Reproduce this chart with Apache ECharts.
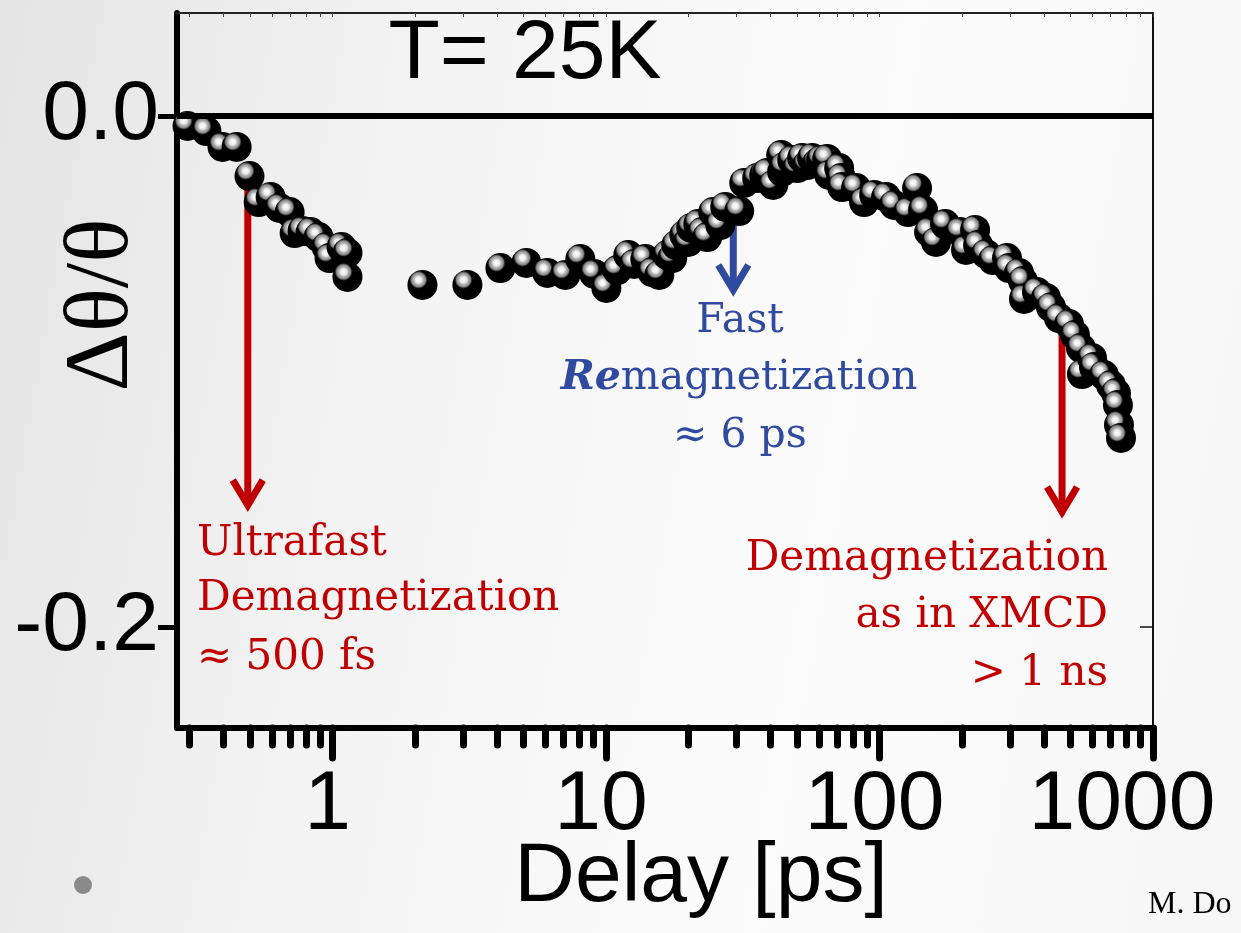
<!DOCTYPE html>
<html>
<head>
<meta charset="utf-8">
<title>T= 25K</title>
<script src="https://cdn.jsdelivr.net/npm/echarts@6/dist/echarts.min.js"></script>
<style>
  html, body { margin: 0; padding: 0; }
  body { background: linear-gradient(100deg, #e4e4e4 0%, #f3f3f3 30%, #fcfcfc 65%, #f6f6f6 100%); }
  #chart { width: 1241px; height: 933px; }
</style>
</head>
<body>
<div id="chart"></div>
<script>
// delay in ps (log axis) and the Kerr signal
const delayPs = [
  0.295, 0.346, 0.396, 0.446, 0.497, 0.537, 0.594, 0.640, 0.697, 0.727,
  0.777, 0.831, 0.889, 0.951, 0.975, 1.079, 1.134, 1.134, 2.132, 3.113,
  4.110, 5.114, 6.104, 7.10, 8.055, 9.06, 10.03, 11.0, 12.06, 12.69,
  13.92, 14.77, 15.66, 16.75, 17.47, 18.07, 19.33, 19.98, 20.50, 21.74,
  22.48, 23.45, 24.66, 26.16, 27.29, 30.69, 32.01, 35.71, 37.87, 38.84,
  40.86, 43.71, 44.07, 44.82, 47.94, 50.0, 52.14, 54.39, 56.72, 59.16,
  61.18, 64.35, 65.45, 71.2, 72.4, 73.0, 82.1, 87.8, 95.6, 105.7,
  113.1, 127.2, 137.2, 144.3, 151.8, 160.9, 173.7, 197.0, 207.2, 223.6,
  229.3, 245.2, 260.1, 292.6, 297.6, 323.6, 334.7, 337.5, 376.6, 406.2,
  423.6, 453.2, 492.8, 518.3, 545.2, 549.8, 598.2, 608.4, 661.6, 702,
  732, 744.5, 751, 763.7
];
const dTheta = [
  -0.0039, -0.0059, -0.0121, -0.0121, -0.0235, -0.0337, -0.0317, -0.0360, -0.0376, -0.0458,
  -0.0450, -0.0454, -0.0474, -0.0513, -0.0556, -0.0513, -0.0536, -0.0630, -0.0661, -0.0661,
  -0.0595, -0.0575, -0.0614, -0.0622, -0.0560, -0.0618, -0.0673, -0.0603, -0.0544, -0.0579,
  -0.0560, -0.0611, -0.0622, -0.0544, -0.0556, -0.0505, -0.0466, -0.0493, -0.0438, -0.0423,
  -0.0454, -0.0474, -0.0376, -0.0427, -0.0356, -0.0372, -0.0262, -0.0243, -0.0231, -0.0223,
  -0.0270, -0.0153, -0.0219, -0.0200, -0.0172, -0.0204, -0.0164, -0.0192, -0.0164, -0.0184,
  -0.0172, -0.0168, -0.0231, -0.0204, -0.0243, -0.0278, -0.0282, -0.0337, -0.0309, -0.0317,
  -0.0348, -0.0376, -0.0282, -0.0368, -0.0454, -0.0493, -0.0423, -0.0454, -0.0524, -0.0446,
  -0.0505, -0.0540, -0.0564, -0.0556, -0.0595, -0.0614, -0.0646, -0.0716, -0.0689, -0.0712,
  -0.0748, -0.0791, -0.0814, -0.0857, -0.0908, -0.1010, -0.0947, -0.0982, -0.1014, -0.1053,
  -0.1084, -0.1131, -0.1209, -0.1260
];

const majorTicks = [1, 10, 100, 1000];
const minorTicks = [
  0.3, 0.4, 0.5, 0.6, 0.7, 0.8, 0.9,
  2, 3, 4, 5, 6, 7, 8, 9,
  20, 30, 40, 50, 60, 70, 80, 90,
  200, 300, 400, 500, 600, 700, 800, 900
];
const yTicks = [-0.2, 0];

// arrows: [delay, start of shaft, tip]
const arrowX = [0.49, 29.2, 465];
const arrowFrom = [-0.0262, -0.0387, -0.0857];
const arrowTo = [-0.1523, -0.0681, -0.155];
const arrowColors = ['#c00000', '#2f4a9f', '#c00000'];

const red = '#c00000';
const blue = '#2f4a9f';
const serif = 'DejaVu Serif';

const chart = echarts.init(document.getElementById('chart'));

const ball = {
  type: 'radial', x: 0.37, y: 0.33, r: 0.5,
  colorStops: [
    { offset: 0, color: '#ffffff' },
    { offset: 0.2, color: '#ededed' },
    { offset: 0.3, color: '#bdbdbd' },
    { offset: 0.47, color: '#858585' },
    { offset: 0.55, color: '#262626' },
    { offset: 0.6, color: '#000' },
    { offset: 1, color: '#000' }
  ]
};

function redLine(text, x, y, align) {
  return {
    type: 'text', x: x, y: y, z: 100,
    style: { text: text, fill: red, fontFamily: serif, fontSize: 42, align: align, verticalAlign: 'middle' }
  };
}

chart.setOption({
  animation: false,
  grid: { left: 177, right: 88, top: 13, bottom: 205, containLabel: false, outerBoundsMode: 'none' },
  xAxis: [
    {
      type: 'log', logBase: 10, min: 0.27, max: 1000, position: 'bottom',
      axisLine: { onZero: false, lineStyle: { color: '#000', width: 6 } },
      axisTick: { customValues: majorTicks, length: 30, lineStyle: { color: '#000', width: 7, cap: 'round' } },
      axisLabel: {
        customValues: majorTicks, margin: 36, color: '#000',
        fontFamily: 'Liberation Sans', fontSize: 84,
        formatter: v => (Math.round(v) === 1000 ? '{e|1000}' : '{n|' + Math.round(v) + '}'),
        rich: {
          n: { fontFamily: 'Liberation Sans', fontSize: 84, color: '#000', padding: [0, 10, 0, 0] },
          e: { fontFamily: 'Liberation Sans', fontSize: 84, color: '#000', padding: [0, 62, 0, 0] }
        }
      },
      splitLine: { show: false }
    },
    {
      type: 'log', logBase: 10, min: 0.27, max: 1000, position: 'bottom',
      axisLine: { show: false, onZero: false },
      axisTick: { customValues: minorTicks, length: 17, lineStyle: { color: '#000', width: 7, cap: 'round' } },
      axisLabel: { show: false },
      splitLine: { show: false }
    },
    {
      type: 'log', logBase: 10, min: 0.27, max: 1000, position: 'top',
      axisLine: { onZero: false, lineStyle: { color: '#222', width: 2 } },
      axisTick: { inside: true, customValues: minorTicks.concat(majorTicks), length: 4, lineStyle: { color: '#444', width: 1 } },
      axisLabel: { show: false },
      splitLine: { show: false }
    }
  ],
  yAxis: [
    {
      type: 'value', min: -0.2395, max: 0.0403, position: 'left',
      axisLine: { show: true, onZero: false, lineStyle: { color: '#000', width: 6 } },
      axisTick: { show: true, customValues: yTicks, length: 19, lineStyle: { color: '#000', width: 5 } },
      axisLabel: {
        customValues: yTicks, margin: 18, color: '#000',
        fontFamily: 'Liberation Sans', fontSize: 84,
        formatter: v => v.toFixed(1)
      },
      splitLine: { show: false }
    },
    {
      type: 'value', min: -0.2395, max: 0.0403, position: 'right',
      axisLine: { show: true, onZero: false, lineStyle: { color: '#111', width: 2 } },
      axisTick: { show: true, inside: true, customValues: [-0.2], length: 13, lineStyle: { color: '#111', width: 1.5 } },
      axisLabel: { show: false },
      splitLine: { show: false }
    }
  ],
  series: [
    {
      type: 'custom',
      z: 1,
      clip: false,
      data: arrowX.map((x, i) => [x, arrowFrom[i], arrowTo[i], i]),
      renderItem: (params, api) => {
        const a = api.coord([api.value(0), api.value(1)]);
        const b = api.coord([api.value(0), api.value(2)]);
        const c = arrowColors[api.value(3)];
        return {
          type: 'group',
          children: [
            { type: 'line', shape: { x1: a[0], y1: a[1], x2: b[0], y2: b[1] - 4 }, style: { stroke: c, lineWidth: 7 } },
            {
              type: 'polyline',
              shape: { points: [[b[0] - 15, b[1] - 25], [b[0], b[1]], [b[0] + 15, b[1] - 25]] },
              style: { stroke: c, lineWidth: 7, fill: null }
            }
          ]
        };
      }
    },
    {
      type: 'scatter',
      z: 3,
      symbol: 'circle',
      symbolSize: 30,
      itemStyle: { color: ball, opacity: 1 },
      emphasis: { disabled: true },
      data: delayPs.map((x, i) => [x, dTheta[i]]),
      markLine: {
        silent: true,
        symbol: 'none',
        label: { show: false },
        lineStyle: { color: '#000', width: 6, type: 'solid' },
        data: [{ yAxis: 0 }]
      }
    }
  ],
  graphic: [
    {
      type: 'text', x: 525, y: 55,
      style: { text: 'T= 25K', fill: '#000', fontFamily: 'Liberation Sans', fontSize: 84, align: 'center', verticalAlign: 'middle' }
    },
    {
      type: 'text', x: 701, y: 878,
      style: { text: 'Delay [ps]', fill: '#000', fontFamily: 'Liberation Sans', fontSize: 84, align: 'center', verticalAlign: 'middle' }
    },
    {
      type: 'text', x: 103, y: 305, rotation: Math.PI / 2,
      style: { text: 'Δθ/θ', fill: '#000', fontFamily: 'Liberation Serif', fontSize: 92, align: 'center', verticalAlign: 'middle' }
    },
    redLine('Ultrafast', 197, 544, 'left'),
    redLine('Demagnetization', 197, 599, 'left'),
    redLine('≈ 500 fs', 197, 658, 'left'),
    redLine('Demagnetization', 1108, 559, 'right'),
    redLine('as in XMCD', 1108, 616, 'right'),
    redLine('> 1 ns', 1108, 674, 'right'),
    {
      type: 'text', x: 740, y: 321, z: 100,
      style: { text: 'Fast', fill: blue, fontFamily: serif, fontSize: 41, align: 'center', verticalAlign: 'middle' }
    },
    {
      type: 'text', x: 739, y: 378, z: 100,
      style: {
        text: '{b|Re}magnetization', fill: blue, fontFamily: serif, fontSize: 41, align: 'center', verticalAlign: 'middle',
        rich: { b: { fill: blue, fontFamily: serif, fontSize: 41, fontWeight: 'bold', fontStyle: 'italic' } }
      }
    },
    {
      type: 'text', x: 740, y: 436, z: 100,
      style: { text: '≈ 6 ps', fill: blue, fontFamily: serif, fontSize: 41, align: 'center', verticalAlign: 'middle' }
    },
    { type: 'circle', shape: { cx: 83, cy: 885, r: 9 }, style: { fill: '#8a8a8a' } },
    {
      type: 'text', x: 1148, y: 905,
      style: { text: 'M. Do', fill: '#000', fontFamily: 'Liberation Serif', fontSize: 32, align: 'left', verticalAlign: 'middle' }
    }
  ]
});
</script>
</body>
</html>
